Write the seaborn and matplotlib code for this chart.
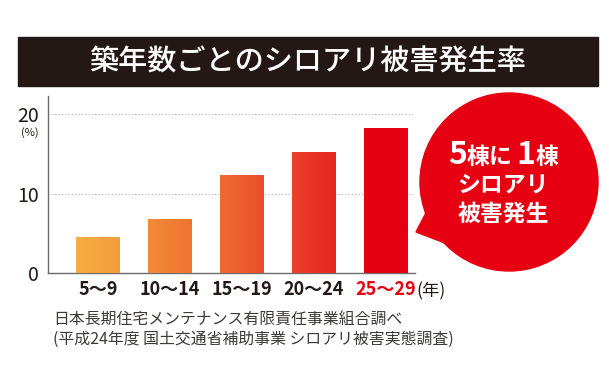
import numpy as np
import pandas as pd
import seaborn as sns
import matplotlib.pyplot as plt
import matplotlib.transforms as mtrans
from matplotlib.colors import to_rgb
from matplotlib.patches import Rectangle, Circle, Polygon

sns.set_theme(style='white')
plt.rcParams['font.family'] = ['Noto Sans CJK JP', 'DejaVu Sans']

# data
age_labels = ['5〜9', '10〜14', '15〜19', '20〜24', '25〜29']
rates = [4.5, 6.8, 12.3, 15.2, 18.2]
left_colors = ['#f5ae42', '#f28b37', '#ef6a31', '#eb412a', '#e60012']
right_colors = ['#f39c3b', '#ef7431', '#ea4e2c', '#e52722', '#e50012']

df = pd.DataFrame({'age': age_labels, 'rate': rates})

W, H = 609, 383
fig = plt.figure(figsize=(W/100, H/100), dpi=100)

ax = fig.add_axes([48/W, 1-273/H, (415-48)/W, (273-96)/H])
sns.barplot(data=df, x='age', y='rate', ax=ax, width=0.61, color='#e60012',
            linewidth=0)

# horizontal gradient inside each bar
for patch, c0, c1 in zip(ax.patches, left_colors, right_colors):
    x0, y0 = patch.get_x(), patch.get_y()
    w, h = patch.get_width(), patch.get_height()
    t = np.linspace(0, 1, 64)[None, :, None]
    rgb = (1-t)*np.array(to_rgb(c0)) + t*np.array(to_rgb(c1))
    ax.imshow(rgb, extent=[x0, x0+w, y0, y0+h], aspect='auto',
              clip_path=patch, zorder=3, interpolation='bilinear')
    patch.set_facecolor('none')

ax.set_xlim(-0.695, 4.41)
ax.set_ylim(0, 22.3)
ax.set_xlabel('')
ax.set_ylabel('')
ax.set_yticks([0, 10, 20])
ax.set_yticklabels(['0', '10', '20'], fontsize=14, color='#231815')
nudge = mtrans.ScaledTranslation(0, 3/72, fig.dpi_scale_trans)
for lbl in ax.get_yticklabels():
    lbl.set_verticalalignment('center_baseline')
    lbl.set_transform(lbl.get_transform() + nudge)
ax.tick_params(axis='y', length=0, pad=6.5)
ax.tick_params(axis='x', length=0, pad=5, labelsize=13)
for i, lbl in enumerate(ax.get_xticklabels()):
    lbl.set_fontweight('bold')
    lbl.set_color('#e60012' if i == len(age_labels)-1 else '#231815')
ax.grid(axis='y', linestyle=(0, (1, 2)), color='#b5b5b5', linewidth=0.8)
ax.set_axisbelow(True)
sns.despine(ax=ax)
for s in ['left', 'bottom']:
    ax.spines[s].set_color('#6b6b6b')
    ax.spines[s].set_linewidth(1)

# overlay in pixel coordinates for title, balloon and notes
ov = fig.add_axes([0, 0, 1, 1])
ov.set_xlim(0, W)
ov.set_ylim(H, 0)
ov.axis('off')
ov.patch.set_alpha(0)

ov.add_patch(Rectangle((18, 37), 580, 49, color='#231815'))
ov.text(307.5, 62, '築年数ごとのシロアリ被害発生率', color='white', fontsize=21,
        fontweight='medium', ha='center', va='center')

ov.text(30, 133, '(%)', fontsize=8, color='#231815', ha='center', va='center')
ov.text(416, 291, '(年)', fontsize=12.5, color='#231815', ha='left', va='center')

red = '#e60012'
ov.add_patch(Circle((509, 182), 89, color=red))
ov.add_patch(Polygon([(430, 205), (416, 232), (458, 248)], closed=True, color=red))
ov.text(448, 164, '5', fontsize=23, fontweight='bold', color='white', va='baseline')
ov.text(467, 164, '棟に', fontsize=16.5, fontweight='bold', color='white', va='baseline')
ov.text(516, 164, '1', fontsize=23, fontweight='bold', color='white', va='baseline')
ov.text(536, 164, '棟', fontsize=16.5, fontweight='bold', color='white', va='baseline')
ov.text(503, 185, 'シロアリ', fontsize=16.5, fontweight='bold', color='white',
        ha='center', va='center')
ov.text(503, 214, '被害発生', fontsize=16.5, fontweight='bold', color='white',
        ha='center', va='center')

ov.text(53, 320, '日本長期住宅メンテナンス有限責任事業組合調べ', fontsize=11.4,
        color='#3e3a39', ha='left', va='center')
ov.text(53, 339, '(平成24年度 国土交通省補助事業 シロアリ被害実態調査)', fontsize=11.4,
        color='#3e3a39', ha='left', va='center')

fig.savefig('out.png', dpi=100)
